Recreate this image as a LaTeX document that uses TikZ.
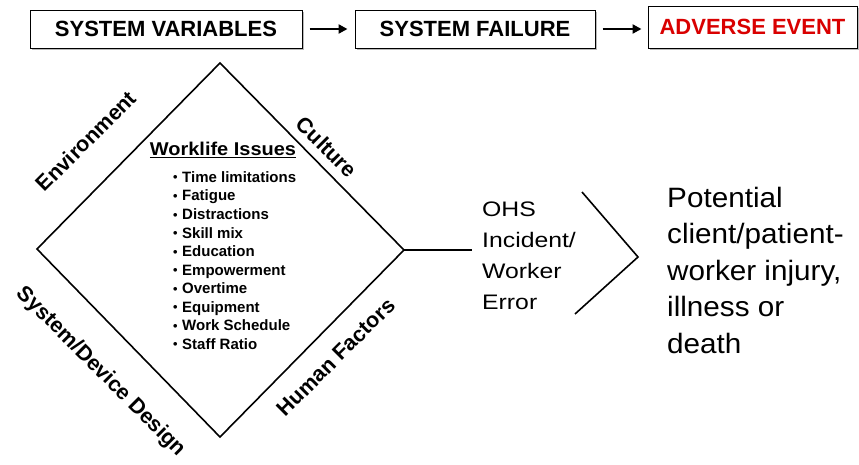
\documentclass[tikz,border=0pt]{standalone}
\usepackage{fontspec}
\setmainfont{Liberation Sans}
\usetikzlibrary{arrows.meta,shadows}
\newcommand{\wbul}{\makebox[9pt][l]{\raisebox{0.05ex}{\scalebox{0.85}{•}}}}
\begin{document}
\begin{tikzpicture}[x=1pt,y=-1pt,
  topbox/.style={draw=black,line width=1pt,fill=white,inner sep=0pt,
    drop shadow={shadow xshift=1.5pt,shadow yshift=-1.5pt,fill=gray!55,opacity=1},
    font=\bfseries\fontsize{22}{22}\selectfont},
  toparrow/.style={line width=2.6pt,-{Triangle[length=9pt,width=9pt]}},
  edge/.style={line width=1.6pt,line join=miter},
  sidelabel/.style={inner sep=0pt,font=\bfseries\fontsize{21.5}{21.5}\selectfont},
]
\useasboundingbox (0,0) rectangle (859,464);
\fill[white] (0,0) rectangle (859,464);
% top row
\node[topbox,minimum width=272pt,minimum height=38pt] (sv) at (166,29) {SYSTEM VARIABLES};
\node[topbox,minimum width=240pt,minimum height=38pt] (sf) at (475,29) {SYSTEM FAILURE};
\node[topbox,minimum width=209pt,minimum height=42pt,text=red!85!black] (ae) at (752.5,27) {ADVERSE EVENT};
\draw[toparrow] ([xshift=7pt]sv.east) -- ([xshift=-7pt]sf.west);
\draw[toparrow] ([xshift=7pt]sf.east) -- ([xshift=-6pt]ae.west |- sf.west);
% diamond
\coordinate (T) at (220,63);
\coordinate (R) at (404,250);
\coordinate (B) at (220,437);
\coordinate (L) at (37,249);
\draw[edge] (T) -- (R) -- (B) -- (L) -- cycle;
\coordinate (E) at (472,250);
\draw[line width=1.4pt] (R) -- (E);
% side labels
\node[sidelabel,rotate=45] (env) at (86,141) {Environment};
\node[sidelabel,rotate=-45] (cul) at (327,147) {Culture};
\node[sidelabel,rotate=-45] (sdd) at (101,372) {System/Device Design};
\node[sidelabel,rotate=45] (hf) at (336,357) {Human Factors};
% worklife
\node[inner sep=0pt,font=\bfseries\fontsize{18.5}{18.5}\selectfont] (wl) at (223,150) {\scalebox{1.08}[1]{\underline{Worklife Issues}}};
\node[inner sep=0pt,anchor=west,align=left,font=\bfseries\fontsize{15}{18.55}\selectfont] (list) at (173,260.5) {%
\wbul Time limitations\\
\wbul Fatigue\\
\wbul Distractions\\
\wbul Skill mix\\
\wbul Education\\
\wbul Empowerment\\
\wbul Overtime\\
\wbul Equipment\\
\wbul Work Schedule\\
\wbul Staff Ratio};
% right side
\node[inner sep=0pt,anchor=west,align=left,font=\fontsize{21}{31}\selectfont] (ohs) at (482,255.5) {\scalebox{1.18}[1]{OHS}\\\scalebox{1.18}[1]{Incident/}\\\scalebox{1.18}[1]{Worker}\\\scalebox{1.18}[1]{Error}};
\coordinate (C1) at (582,192);
\coordinate (C2) at (638,257);
\coordinate (C3) at (575,314);
\draw[edge] (C1) -- (C2) -- (C3);
\node[inner sep=0pt,anchor=west,align=left,font=\fontsize{28}{36.5}\selectfont] (pot) at (667,270) {\scalebox{1.06}[1]{Potential}\\\scalebox{1.06}[1]{client/patient-}\\\scalebox{1.06}[1]{worker injury,}\\\scalebox{1.06}[1]{illness or}\\\scalebox{1.06}[1]{death}};
\end{tikzpicture}
\end{document}
